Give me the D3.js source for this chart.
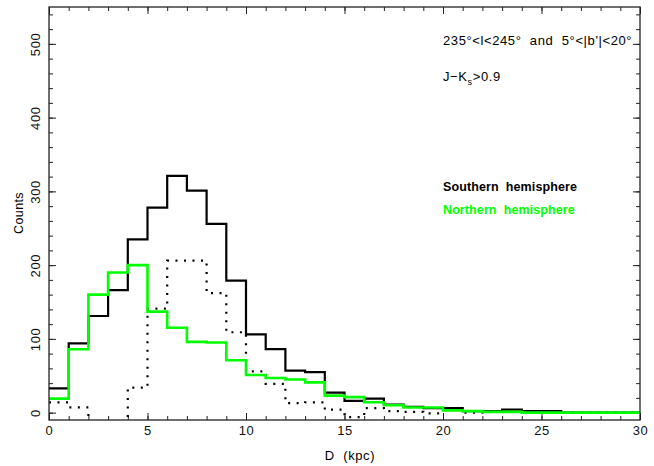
<!DOCTYPE html>
<html>
<head>
<meta charset="utf-8">
<script src="https://cdn.jsdelivr.net/npm/d3@7"></script>
<style>
  body { margin: 0; background: #fff; }
  svg { font-family: "Liberation Sans", Arial, sans-serif; }
</style>
</head>
<body>
<script>
// histogram bins of 1 kpc, left edges 0..29
var binEdges = d3.range(0, 30);
var southern = [33, 94, 131, 166, 235, 278, 321, 301, 256, 179, 106, 86, 57, 55, 27, 16, 19, 11, 8, 6, 6, 2, 2, 4, 2, 2, 0, 0, 0, 0];
var northern = [19, 86, 160, 190, 200, 137, 115, 96, 95, 71, 51, 47, 45, 41, 23, 21, 14, 10, 7, 7, 3, 2, 1, 1, 0, 0, 0, 0, 0, 0];
// dotted curve (south minus north)
var difference = [14, 7, -29, -24, 34, 141, 206, 206, 162, 109, 56, 39, 13, 14, 4, -6, 6, 2, 1, -1, 4, 0, 1, 1, 2, 2, 0, 0, 0, 0];

var xMajor = [0, 5, 10, 15, 20, 25, 30];
var yMajor = [0, 100, 200, 300, 400, 500];

var margin = { top: 7, right: 14, bottom: 46, left: 49 };
var W = 654, H = 466;
var width = W - margin.left - margin.right;
var height = H - margin.top - margin.bottom;

var svg = d3.select("body").append("svg")
    .attr("width", W)
    .attr("height", H);

var g = svg.append("g")
    .attr("transform", "translate(" + margin.left + "," + margin.top + ")");

var x = d3.scaleLinear().domain([0, 30]).range([0, width]);
var y = d3.scaleLinear().domain([-10, 550]).range([height, 0]);

g.append("defs").append("clipPath")
    .attr("id", "clip")
    .append("rect")
    .attr("width", width)
    .attr("height", height);

// ticks inward on all four sides
function styleAxis(sel) {
    sel.select(".domain").remove();
    sel.selectAll("line").attr("stroke", "#222").attr("stroke-width", 1);
    sel.selectAll("text").attr("fill", "#111")
        .style("font-size", "13px")
        .style("letter-spacing", "0.6px");
}

var minorX = d3.range(0, 31, 1);
var minorY = d3.range(0, 551, 20);

g.append("g").attr("transform", "translate(0," + height + ")")
    .call(d3.axisBottom(x).tickValues(minorX).tickSize(-4).tickFormat(""))
    .call(styleAxis);
g.append("g").attr("transform", "translate(0," + height + ")")
    .call(d3.axisBottom(x).tickValues(xMajor).tickSize(-7).tickPadding(6).tickFormat(d3.format("d")))
    .call(styleAxis);
g.append("g")
    .call(d3.axisTop(x).tickValues(minorX).tickSize(-4).tickFormat(""))
    .call(styleAxis);
g.append("g")
    .call(d3.axisTop(x).tickValues(xMajor).tickSize(-7).tickFormat(""))
    .call(styleAxis);

g.append("g")
    .call(d3.axisLeft(y).tickValues(minorY).tickSize(-4).tickFormat(""))
    .call(styleAxis);
var gY = g.append("g")
    .call(d3.axisLeft(y).tickValues(yMajor).tickSize(-7).tickFormat(d3.format("d")))
    .call(styleAxis);
gY.selectAll("text")
    .attr("x", null)
    .attr("dy", null)
    .attr("text-anchor", "middle")
    .attr("transform", "translate(-9.5,0) rotate(-90)");

g.append("g").attr("transform", "translate(" + width + ",0)")
    .call(d3.axisRight(y).tickValues(minorY).tickSize(-4).tickFormat(""))
    .call(styleAxis);
g.append("g").attr("transform", "translate(" + width + ",0)")
    .call(d3.axisRight(y).tickValues(yMajor).tickSize(-7).tickFormat(""))
    .call(styleAxis);

// step histograms
function stepPoints(vals) {
    var pts = binEdges.map(function (e, i) { return [e, vals[i]]; });
    pts.push([30, vals[vals.length - 1]]);
    return pts;
}

var line = d3.line()
    .x(function (d) { return x(d[0]); })
    .y(function (d) { return y(d[1]); })
    .curve(d3.curveStepAfter);

var plot = g.append("g").attr("clip-path", "url(#clip)");

plot.append("path")
    .datum(stepPoints(difference))
    .attr("d", line)
    .attr("fill", "none")
    .attr("stroke", "#000")
    .attr("stroke-width", 2.2)
    .attr("stroke-dasharray", "2,6.5");

plot.append("path")
    .datum(stepPoints(southern))
    .attr("d", line)
    .attr("fill", "none")
    .attr("stroke", "#000")
    .attr("stroke-width", 2.2);

plot.append("path")
    .datum(stepPoints(northern))
    .attr("d", line)
    .attr("fill", "none")
    .attr("stroke", "#00ff00")
    .attr("stroke-width", 2.6);

// frame
g.append("rect")
    .attr("width", width)
    .attr("height", height)
    .attr("fill", "none")
    .attr("stroke", "#222")
    .attr("stroke-width", 1.3);

// axis titles
svg.append("text")
    .attr("x", 350)
    .attr("y", 460)
    .attr("text-anchor", "middle")
    .style("font-size", "13px")
    .style("letter-spacing", "0.6px")
    .style("white-space", "pre")
    .text("D  (kpc)");

svg.append("text")
    .attr("transform", "translate(23,213) rotate(-90)")
    .attr("text-anchor", "middle")
    .style("font-size", "12.5px")
    .style("letter-spacing", "0.4px")
    .text("Counts");

// annotations
svg.append("text")
    .attr("x", 443)
    .attr("y", 45)
    .style("font-size", "13px")
    .style("letter-spacing", "0.6px")
    .style("white-space", "pre")
    .text("235°<l<245°  and  5°<|b'|<20°");

var jk = svg.append("text")
    .attr("x", 443)
    .attr("y", 81)
    .style("font-size", "13px")
    .style("letter-spacing", "0.6px");
jk.append("tspan").text("J\u2212K");
jk.append("tspan").attr("dy", 4).style("font-size", "9px").text("s");
jk.append("tspan").attr("dy", -4).text(">0.9");

svg.append("text")
    .attr("x", 443)
    .attr("y", 191)
    .style("font-size", "12.5px")
    .style("font-weight", "bold")
    .style("letter-spacing", "0.1px")
    .style("white-space", "pre")
    .attr("fill", "#000")
    .text("Southern  hemisphere");

svg.append("text")
    .attr("x", 443)
    .attr("y", 214)
    .style("font-size", "12.5px")
    .style("font-weight", "bold")
    .style("letter-spacing", "0.1px")
    .style("white-space", "pre")
    .attr("fill", "#00ff00")
    .text("Northern  hemisphere");
</script>
</body>
</html>
